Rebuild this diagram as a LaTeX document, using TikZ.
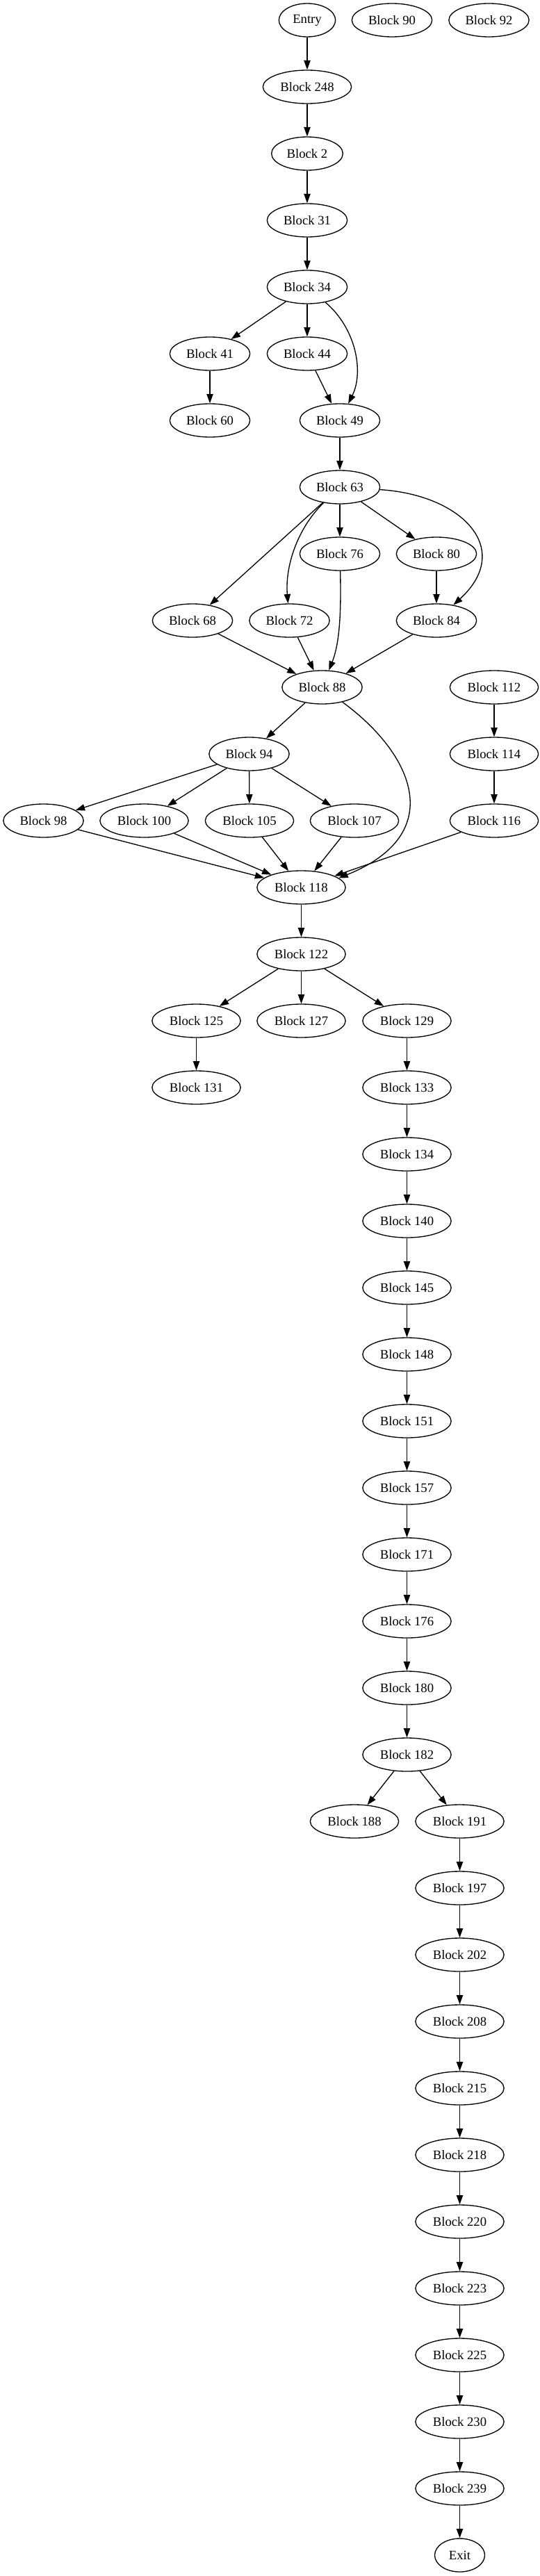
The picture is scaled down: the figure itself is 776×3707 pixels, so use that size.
\documentclass[tikz,border=0pt]{standalone}
\usepackage{fontspec}
\setmainfont{Liberation Serif}
\usetikzlibrary{arrows.meta,shapes.geometric}
\begin{document}
\begin{tikzpicture}[x=0.75pt,y=-0.75pt,
 blk/.style={ellipse,draw,line width=1pt,minimum height=36pt,inner sep=0pt,font=\fontsize{14}{16}\selectfont},
 w0/.style={blk,minimum width=61pt},
 wx/.style={blk,minimum width=54pt},
 w1/.style={blk,minimum width=77pt},
 w2/.style={blk,minimum width=86.5pt},
 w3/.style={blk,minimum width=95.5pt},
 conn/.style={line width=1pt,-{Triangle[length=10pt,width=7pt]}}]
\useasboundingbox (0,0) rectangle (776,3707);
% rank 0
\node[w0] (entry) at (442,29) {Entry};
\node[w2] (b90) at (564,29) {Block 90};
\node[w2] (b92) at (703.5,29) {Block 92};
\node[w3] (b248) at (442,125) {Block 248};
\node[w1] (b2) at (442,221) {Block 2};
\node[w2] (b31) at (442,317) {Block 31};
\node[w2] (b34) at (442,413) {Block 34};
\node[w2] (b41) at (302,509) {Block 41};
\node[w2] (b44) at (442,509) {Block 44};
\node[w2] (b60) at (302,605) {Block 60};
\node[w2] (b49) at (489,605) {Block 49};
\node[w2] (b63) at (489,701) {Block 63};
\node[w2] (b76) at (489,797) {Block 76};
\node[w2] (b80) at (628,797) {Block 80};
\node[w2] (b68) at (277,893) {Block 68};
\node[w2] (b72) at (416.5,893) {Block 72};
\node[w2] (b84) at (628,893) {Block 84};
\node[w2] (b88) at (463.5,989) {Block 88};
\node[w3] (b112) at (711,989) {Block 112};
\node[w2] (b94) at (358.5,1085) {Block 94};
\node[w3] (b114) at (711,1085) {Block 114};
\node[w2] (b98) at (62.5,1181) {Block 98};
\node[w3] (b100) at (207.5,1181) {Block 100};
\node[w3] (b105) at (359,1181) {Block 105};
\node[w3] (b107) at (510,1181) {Block 107};
\node[w3] (b116) at (711,1181) {Block 116};
\node[w3] (b118) at (433.5,1277) {Block 118};
\node[w3] (b122) at (433.5,1373) {Block 122};
\node[w3] (b125) at (282.5,1469) {Block 125};
\node[w3] (b127) at (433.5,1469) {Block 127};
\node[w3] (b129) at (585.5,1469) {Block 129};
\node[w3] (b131) at (282.5,1565) {Block 131};
\node[w3] (b133) at (585.5,1565) {Block 133};
\node[w3] (b134) at (585.5,1661) {Block 134};
\node[w3] (b140) at (585.5,1757) {Block 140};
\node[w3] (b145) at (585.5,1853) {Block 145};
\node[w3] (b148) at (585.5,1949) {Block 148};
\node[w3] (b151) at (585.5,2045) {Block 151};
\node[w3] (b157) at (585.5,2141) {Block 157};
\node[w3] (b171) at (585.5,2237) {Block 171};
\node[w3] (b176) at (585.5,2333) {Block 176};
\node[w3] (b180) at (585.5,2429) {Block 180};
\node[w3] (b182) at (585.5,2525) {Block 182};
\node[w3] (b188) at (510,2621) {Block 188};
\node[w3] (b191) at (661.5,2621) {Block 191};
\node[w3] (b197) at (661.5,2717) {Block 197};
\node[w3] (b202) at (661.5,2813) {Block 202};
\node[w3] (b208) at (661.5,2909) {Block 208};
\node[w3] (b215) at (661.5,3005) {Block 215};
\node[w3] (b218) at (661.5,3101) {Block 218};
\node[w3] (b220) at (661.5,3197) {Block 220};
\node[w3] (b223) at (661.5,3293) {Block 223};
\node[w3] (b225) at (661.5,3389) {Block 225};
\node[w3] (b230) at (661.5,3485) {Block 230};
\node[w3] (b239) at (661.5,3581) {Block 239};
\node[wx] (exit) at (661.5,3677) {Exit};
% edges
\draw[conn] (entry) -- (b248);
\draw[conn] (b248) -- (b2);
\draw[conn] (b2) -- (b31);
\draw[conn] (b31) -- (b34);
\draw[conn] (b34) -- (b41);
\draw[conn] (b34) -- (b44);
\draw[conn] (b34) .. controls (512,472) and (524,535) .. (b49);
\draw[conn] (b41) -- (b60);
\draw[conn] (b44) -- (b49);
\draw[conn] (b49) -- (b63);
\draw[conn] (b63) -- (b68);
\draw[conn] (b63) .. controls (428,760) and (410,815) .. (b72);
\draw[conn] (b63) -- (b76);
\draw[conn] (b63) -- (b80);
\draw[conn] (b63) .. controls (665,712) and (740,790) .. (b84);
\draw[conn] (b76) .. controls (491,880) and (489,925) .. (b88);
\draw[conn] (b80) -- (b84);
\draw[conn] (b68) -- (b88);
\draw[conn] (b72) -- (b88);
\draw[conn] (b84) -- (b88);
\draw[conn] (b88) -- (b94);
\draw[conn] (b88) .. controls (595,1085) and (645,1200) .. (b118.14);
\draw[conn] (b94) -- (b98);
\draw[conn] (b94) -- (b100);
\draw[conn] (b94) -- (b105);
\draw[conn] (b94) -- (b107);
\draw[conn] (b98) -- (b118);
\draw[conn] (b100) -- (b118);
\draw[conn] (b105) -- (b118);
\draw[conn] (b107) -- (b118);
\draw[conn] (b116) -- (b118);
\draw[conn] (b112) -- (b114);
\draw[conn] (b114) -- (b116);
\draw[conn] (b118) -- (b122);
\draw[conn] (b122) -- (b125);
\draw[conn] (b122) -- (b127);
\draw[conn] (b122) -- (b129);
\draw[conn] (b125) -- (b131);
\draw[conn] (b129) -- (b133);
\draw[conn] (b133) -- (b134);
\draw[conn] (b134) -- (b140);
\draw[conn] (b140) -- (b145);
\draw[conn] (b145) -- (b148);
\draw[conn] (b148) -- (b151);
\draw[conn] (b151) -- (b157);
\draw[conn] (b157) -- (b171);
\draw[conn] (b171) -- (b176);
\draw[conn] (b176) -- (b180);
\draw[conn] (b180) -- (b182);
\draw[conn] (b182) -- (b188);
\draw[conn] (b182) -- (b191);
\draw[conn] (b191) -- (b197);
\draw[conn] (b197) -- (b202);
\draw[conn] (b202) -- (b208);
\draw[conn] (b208) -- (b215);
\draw[conn] (b215) -- (b218);
\draw[conn] (b218) -- (b220);
\draw[conn] (b220) -- (b223);
\draw[conn] (b223) -- (b225);
\draw[conn] (b225) -- (b230);
\draw[conn] (b230) -- (b239);
\draw[conn] (b239) -- (exit);
\end{tikzpicture}
\end{document}
